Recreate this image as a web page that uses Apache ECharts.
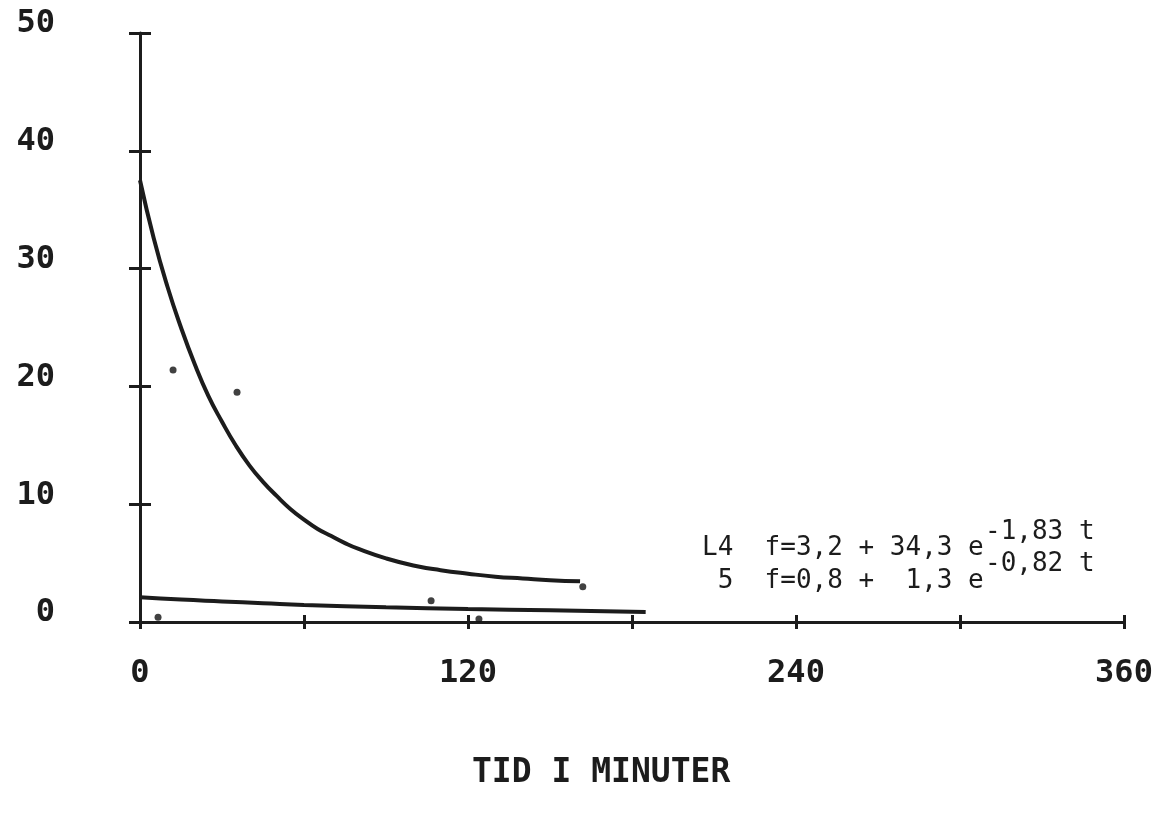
<!DOCTYPE html>
<html>
<head>
<meta charset="utf-8">
<script src="https://cdn.jsdelivr.net/npm/echarts@6/dist/echarts.min.js"></script>
<style>
  html, body { margin: 0; padding: 0; background: #fff; }
  #chart { width: 1171px; height: 813px; }
</style>
</head>
<body>
<div id="chart"></div>
<script>
// kurve L4 (minutter, verdi)
var timeL4  = [0, 5, 10, 15, 20, 25, 30, 35, 40, 45, 50, 55, 60, 65, 70, 75, 80, 90, 100, 110, 120, 130, 140, 150, 161];
var valueL4 = [37.5, 32.6, 28.5, 25.0, 21.9, 19.2, 17.0, 15.0, 13.3, 11.9, 10.7, 9.6, 8.7, 7.9, 7.3, 6.7, 6.2, 5.4, 4.8, 4.4, 4.1, 3.85, 3.7, 3.55, 3.45];

// kurve 5
var time5  = [0, 15, 30, 45, 60, 90, 120, 150, 185];
var value5 = [2.1, 1.9, 1.75, 1.6, 1.45, 1.25, 1.1, 1.0, 0.85];

// målepunkter
var pointTime  = [6.6, 12.1, 35.5, 106.5, 124, 162];
var pointValue = [0.4, 21.4, 19.5, 1.8, 0.25, 3.0];

var xLabelValues = [0, 120, 240, 360];
var yLabelValues = [0, 10, 20, 30, 40, 50];

var ink = '#1c1c1c';
var blockFont = 'DejaVu Sans Mono';
var typeFont = 'DejaVu Sans Mono';

function pairs(xs, ys) {
    return xs.map(function (x, i) { return [x, ys[i]]; });
}

var myChart = echarts.init(document.getElementById('chart'), null, { renderer: 'canvas' });

var tickStyle = { color: ink, width: 3 };

var option = {
    backgroundColor: '#ffffff',
    animation: false,
    title: {
        text: 'TID I MINUTER',
        left: 467,
        top: 752,
        textStyle: { fontFamily: blockFont, fontWeight: 'bold', fontSize: 33, color: ink }
    },
    grid: { left: 140, right: 47, top: 33, bottom: 191, containLabel: false },
    xAxis: [{
        type: 'value', min: 0, max: 360, interval: 60, position: 'bottom',
        axisLine: { show: true, onZero: false, lineStyle: { color: ink, width: 3 } },
        axisTick: { show: true, length: 7, lineStyle: tickStyle },
        splitLine: { show: false },
        axisLabel: {
            margin: 36,
            fontFamily: blockFont, fontWeight: 'bold', fontSize: 32, color: ink,
            formatter: function (v) { return xLabelValues.indexOf(v) >= 0 ? String(v) : ''; }
        }
    }, {
        type: 'value', min: 0, max: 360, interval: 60, position: 'bottom',
        axisLine: { show: false },
        axisTick: { show: true, inside: true, length: 7, lineStyle: tickStyle },
        splitLine: { show: false },
        axisLabel: { show: false }
    }],
    yAxis: [{
        type: 'value', min: 0, max: 50, interval: 10, position: 'left',
        axisLine: { show: true, onZero: false, lineStyle: { color: ink, width: 3 } },
        axisTick: { show: true, length: 11, lineStyle: tickStyle },
        splitLine: { show: false },
        axisLabel: {
            margin: 85,
            verticalAlign: 'bottom',
            lineHeight: 18,
            fontFamily: blockFont, fontWeight: 'bold', fontSize: 32, color: ink,
            formatter: function (v) { return yLabelValues.indexOf(v) >= 0 ? String(v) : ''; }
        }
    }, {
        type: 'value', min: 0, max: 50, interval: 10, position: 'left',
        axisLine: { show: false },
        axisTick: { show: true, inside: true, length: 11, lineStyle: tickStyle },
        splitLine: { show: false },
        axisLabel: { show: false }
    }],
    series: [{
        name: 'L4',
        type: 'line',
        smooth: 0.5,
        showSymbol: false,
        lineStyle: { color: ink, width: 4 },
        data: pairs(timeL4, valueL4)
    }, {
        name: '5',
        type: 'line',
        smooth: 0.5,
        showSymbol: false,
        lineStyle: { color: ink, width: 4 },
        data: pairs(time5, value5)
    }, {
        name: 'punkter',
        type: 'scatter',
        symbolSize: 7,
        itemStyle: { color: '#111' },
        data: pairs(pointTime, pointValue)
    }],
    graphic: [
        { type: 'text', left: 702, top: 535, style: { text: 'L4  f=3,2 + 34,3 e', fontFamily: typeFont, fontSize: 26, fill: ink } },
        { type: 'text', left: 985, top: 519, style: { text: '-1,83 t', fontFamily: typeFont, fontSize: 26, fill: ink } },
        { type: 'text', left: 702, top: 568, style: { text: ' 5  f=0,8 +  1,3 e', fontFamily: typeFont, fontSize: 26, fill: ink } },
        { type: 'text', left: 985, top: 551, style: { text: '-0,82 t', fontFamily: typeFont, fontSize: 26, fill: ink } }
    ]
};

myChart.setOption(option);

window.addEventListener('resize', function () {
    myChart.resize();
});
</script>
</body>
</html>
